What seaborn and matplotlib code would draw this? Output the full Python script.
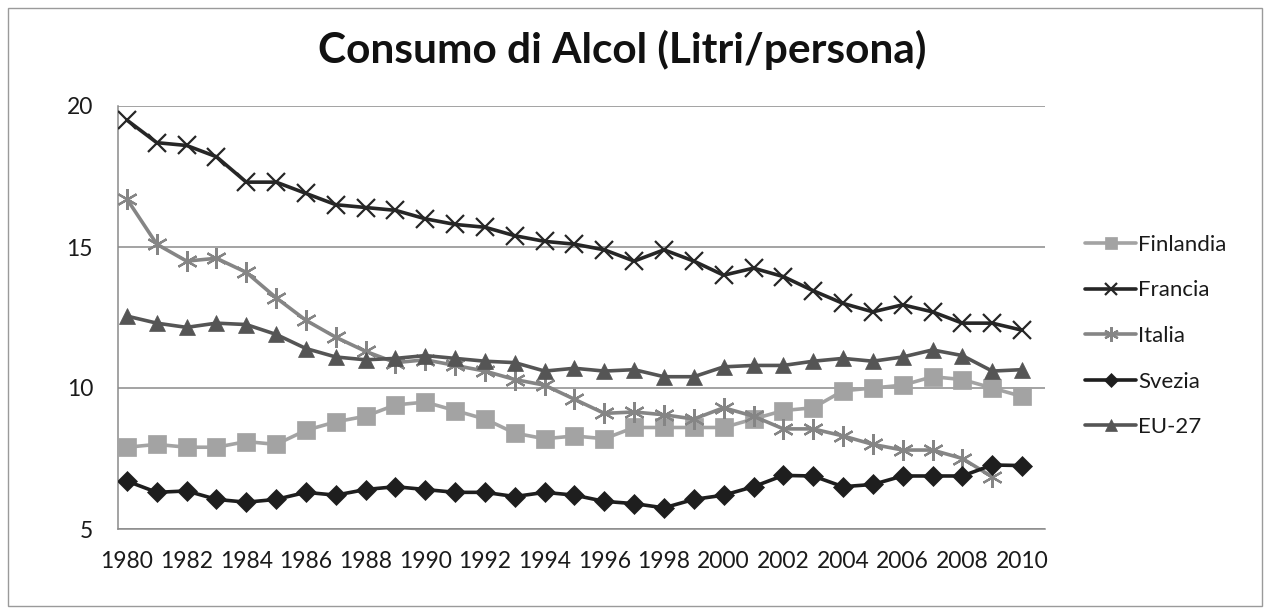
import numpy as np
import pandas as pd
import matplotlib
matplotlib.use("Agg")
import matplotlib.pyplot as plt
import seaborn as sns
from matplotlib.patches import Rectangle

years = list(range(1980, 2011))
finlandia = [7.9, 8.0, 7.9, 7.9, 8.1, 8.0, 8.5, 8.8, 9.0, 9.4, 9.5, 9.2, 8.9, 8.4, 8.2, 8.3, 8.2,
             8.6, 8.6, 8.6, 8.6, 8.9, 9.2, 9.3, 9.9, 10.0, 10.1, 10.4, 10.3, 10.0, 9.7]
francia = [19.5, 18.7, 18.6, 18.2, 17.3, 17.3, 16.9, 16.5, 16.4, 16.3, 16.0, 15.8, 15.7, 15.4, 15.2, 15.1,
           14.9, 14.5, 14.9, 14.5, 14.0, 14.25, 13.95, 13.45, 13.0, 12.7, 12.95, 12.7, 12.3, 12.3, 12.05]
italia = [16.7, 15.1, 14.5, 14.6, 14.1, 13.2, 12.4, 11.8, 11.3, 10.9, 11.0, 10.8, 10.6, 10.3, 10.1, 9.6,
          9.1, 9.15, 9.05, 8.9, 9.3, 9.0, 8.55, 8.55, 8.3, 8.0, 7.8, 7.8, 7.5, 6.85, np.nan]
svezia = [6.7, 6.3, 6.35, 6.05, 5.95, 6.05, 6.3, 6.2, 6.4, 6.5, 6.4, 6.3, 6.3, 6.15, 6.3, 6.2, 5.98,
          5.9, 5.75, 6.05, 6.2, 6.5, 6.9, 6.88, 6.5, 6.58, 6.88, 6.88, 6.88, 7.27, 7.25]
eu27 = [12.55, 12.3, 12.15, 12.3, 12.25, 11.9, 11.4, 11.1, 11.0, 11.05, 11.15, 11.05, 10.95, 10.9, 10.6,
        10.7, 10.6, 10.65, 10.4, 10.4, 10.75, 10.8, 10.8, 10.95, 11.05, 10.95, 11.1, 11.35, 11.15, 10.6, 10.65]

series_names = ["Finlandia", "Francia", "Italia", "Svezia", "EU-27"]
series_values = [finlandia, francia, italia, svezia, eu27]
y_ticks = [5, 10, 15, 20]
x_ticks = list(range(1980, 2011, 2))
title = "Consumo di Alcol (Litri/persona)"

sns.set_theme(style="white")
plt.rcParams['font.family'] = ['Lato', 'DejaVu Sans']

colors = {"Finlandia": "#a3a3a3", "Francia": "#262626", "Italia": "#858585",
          "Svezia": "#1e1e1e", "EU-27": "#555555"}
markers = {"Finlandia": "s", "Francia": "x", "Italia": (6, 2, 0), "Svezia": "D", "EU-27": "^"}
msizes = {"Finlandia": 13, "Francia": 13, "Italia": 15, "Svezia": 10, "EU-27": 12}

fig = plt.figure(figsize=(12.71, 6.14), dpi=100)
ax = fig.add_axes([118/1271, 1 - 529/614, (1045-118)/1271, (529-106)/614])

for name, vals in zip(series_names, series_values):
    df = pd.DataFrame({"year": years, "value": vals})
    c = colors[name]
    m = markers[name]
    sns.lineplot(data=df, x="year", y="value", ax=ax, color=c, linewidth=2.6,
                 marker=m, markersize=msizes[name], markeredgecolor=c,
                 markerfacecolor=c, markeredgewidth=1.6 if name in ("Francia", "Italia") else 0.5,
                 label=name, zorder=3)

ax.set_xlim(1979.70, 2010.77)
ax.set_ylim(5, 20)
ax.set_yticks(y_ticks)
ax.set_yticklabels([str(v) for v in y_ticks], fontsize=16.5, color="#1a1a1a")
ax.set_xticks(x_ticks)
ax.set_xticklabels([str(v) for v in x_ticks], fontsize=16.5, color="#1a1a1a")
ax.tick_params(axis="both", length=0)
ax.tick_params(axis="y", pad=18)
ax.tick_params(axis="x", pad=16)
ax.set_xlabel("")
ax.set_ylabel("")
ax.grid(axis="y", color="#8a8a8a", linewidth=1.1)
ax.grid(axis="x", visible=False)
for s in ["top", "right"]:
    ax.spines[s].set_visible(False)
ax.spines["left"].set_color("#8a8a8a")
ax.spines["bottom"].set_color("#8a8a8a")
ax.spines["left"].set_linewidth(1.1)
ax.spines["bottom"].set_linewidth(1.1)

leg = ax.legend(loc="center left", bbox_to_anchor=((1085-118)/927, (529-336)/423),
                frameon=False, fontsize=16, handlelength=2.3, handletextpad=0.1,
                labelspacing=1.15, borderaxespad=0, borderpad=0, markerscale=0.7)
for t in leg.get_texts():
    t.set_color("#1a1a1a")

fig.text(622/1271, 1 - 50/614, title, ha="center", va="center",
         fontsize=30.5, fontweight="bold", color="#111111")

fig.patches.append(Rectangle((8/1271, 1 - 606/614), (1262-8)/1271, (606-8)/614,
                             transform=fig.transFigure, fill=False,
                             edgecolor="#9a9a9a", linewidth=1.0))

fig.savefig("out.png", dpi=100)
